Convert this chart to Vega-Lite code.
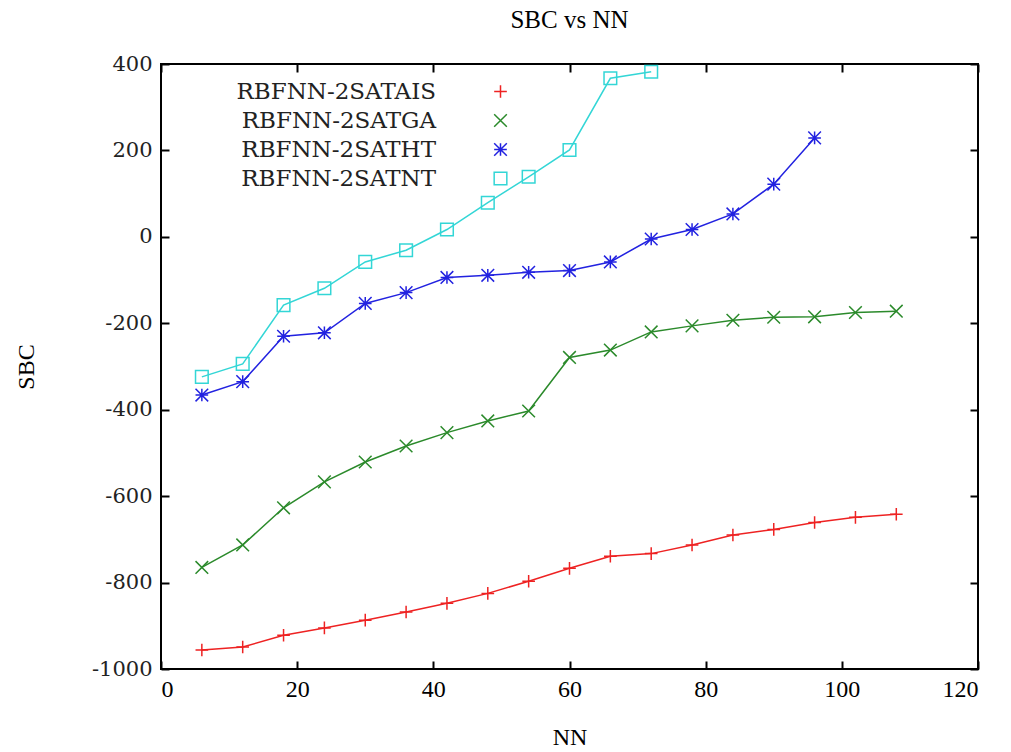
{
  "$schema": "https://vega.github.io/schema/vega-lite/v6.json",
  "width": 817,
  "height": 605,
  "padding": {"left": 14, "top": 8, "right": 5, "bottom": 5},
  "background": "white",
  "title": {"text": "SBC vs NN", "font": "Liberation Serif", "fontSize": 25, "fontWeight": "normal", "color": "black", "offset": 20},
  "config": {
    "view": {"stroke": "black", "strokeWidth": 2},
    "font": "Liberation Serif",
    "legend": {"title": null, "orient": "none", "legendX": 328, "legendY": 16, "labelFont": "DejaVu Serif", "labelFontSize": 23, "labelColor": "#222222",
      "labelAlign": "right", "labelOffset": -76, "symbolSize": 160, "symbolStrokeWidth": 1.5, "rowPadding": 5, "labelLimit": 400}
  },
  "data": {"values": [
    {"series": "RBFNN-2SATAIS", "nn": 6, "sbc": -956},
    {"series": "RBFNN-2SATAIS", "nn": 12, "sbc": -949},
    {"series": "RBFNN-2SATAIS", "nn": 18, "sbc": -922},
    {"series": "RBFNN-2SATAIS", "nn": 24, "sbc": -905},
    {"series": "RBFNN-2SATAIS", "nn": 30, "sbc": -887},
    {"series": "RBFNN-2SATAIS", "nn": 36, "sbc": -868},
    {"series": "RBFNN-2SATAIS", "nn": 42, "sbc": -848},
    {"series": "RBFNN-2SATAIS", "nn": 48, "sbc": -825},
    {"series": "RBFNN-2SATAIS", "nn": 54, "sbc": -797},
    {"series": "RBFNN-2SATAIS", "nn": 60, "sbc": -767},
    {"series": "RBFNN-2SATAIS", "nn": 66, "sbc": -739},
    {"series": "RBFNN-2SATAIS", "nn": 72, "sbc": -733},
    {"series": "RBFNN-2SATAIS", "nn": 78, "sbc": -713},
    {"series": "RBFNN-2SATAIS", "nn": 84, "sbc": -690},
    {"series": "RBFNN-2SATAIS", "nn": 90, "sbc": -677},
    {"series": "RBFNN-2SATAIS", "nn": 96, "sbc": -661},
    {"series": "RBFNN-2SATAIS", "nn": 102, "sbc": -649},
    {"series": "RBFNN-2SATAIS", "nn": 108, "sbc": -642},
    {"series": "RBFNN-2SATGA", "nn": 6, "sbc": -765},
    {"series": "RBFNN-2SATGA", "nn": 12, "sbc": -713},
    {"series": "RBFNN-2SATGA", "nn": 18, "sbc": -627},
    {"series": "RBFNN-2SATGA", "nn": 24, "sbc": -567},
    {"series": "RBFNN-2SATGA", "nn": 30, "sbc": -521},
    {"series": "RBFNN-2SATGA", "nn": 36, "sbc": -484},
    {"series": "RBFNN-2SATGA", "nn": 42, "sbc": -453},
    {"series": "RBFNN-2SATGA", "nn": 48, "sbc": -426},
    {"series": "RBFNN-2SATGA", "nn": 54, "sbc": -403},
    {"series": "RBFNN-2SATGA", "nn": 60, "sbc": -279},
    {"series": "RBFNN-2SATGA", "nn": 66, "sbc": -262},
    {"series": "RBFNN-2SATGA", "nn": 72, "sbc": -220},
    {"series": "RBFNN-2SATGA", "nn": 78, "sbc": -206},
    {"series": "RBFNN-2SATGA", "nn": 84, "sbc": -193},
    {"series": "RBFNN-2SATGA", "nn": 90, "sbc": -186},
    {"series": "RBFNN-2SATGA", "nn": 96, "sbc": -185},
    {"series": "RBFNN-2SATGA", "nn": 102, "sbc": -175},
    {"series": "RBFNN-2SATGA", "nn": 108, "sbc": -172},
    {"series": "RBFNN-2SATHT", "nn": 6, "sbc": -366},
    {"series": "RBFNN-2SATHT", "nn": 12, "sbc": -335},
    {"series": "RBFNN-2SATHT", "nn": 18, "sbc": -230},
    {"series": "RBFNN-2SATHT", "nn": 24, "sbc": -222},
    {"series": "RBFNN-2SATHT", "nn": 30, "sbc": -154},
    {"series": "RBFNN-2SATHT", "nn": 36, "sbc": -129},
    {"series": "RBFNN-2SATHT", "nn": 42, "sbc": -94},
    {"series": "RBFNN-2SATHT", "nn": 48, "sbc": -89},
    {"series": "RBFNN-2SATHT", "nn": 54, "sbc": -82},
    {"series": "RBFNN-2SATHT", "nn": 60, "sbc": -78},
    {"series": "RBFNN-2SATHT", "nn": 66, "sbc": -58},
    {"series": "RBFNN-2SATHT", "nn": 72, "sbc": -5},
    {"series": "RBFNN-2SATHT", "nn": 78, "sbc": 17},
    {"series": "RBFNN-2SATHT", "nn": 84, "sbc": 53},
    {"series": "RBFNN-2SATHT", "nn": 90, "sbc": 122},
    {"series": "RBFNN-2SATHT", "nn": 96, "sbc": 229},
    {"series": "RBFNN-2SATNT", "nn": 6, "sbc": -324},
    {"series": "RBFNN-2SATNT", "nn": 12, "sbc": -294},
    {"series": "RBFNN-2SATNT", "nn": 18, "sbc": -158},
    {"series": "RBFNN-2SATNT", "nn": 24, "sbc": -119},
    {"series": "RBFNN-2SATNT", "nn": 30, "sbc": -58},
    {"series": "RBFNN-2SATNT", "nn": 36, "sbc": -31},
    {"series": "RBFNN-2SATNT", "nn": 42, "sbc": 17},
    {"series": "RBFNN-2SATNT", "nn": 48, "sbc": 79},
    {"series": "RBFNN-2SATNT", "nn": 54, "sbc": 139},
    {"series": "RBFNN-2SATNT", "nn": 60, "sbc": 201},
    {"series": "RBFNN-2SATNT", "nn": 66, "sbc": 367},
    {"series": "RBFNN-2SATNT", "nn": 72, "sbc": 382}
  ]},
  "layer": [
    {
      "mark": {"type": "line", "strokeWidth": 1.5},
      "encoding": {
        "x": {"field": "nn", "type": "quantitative", "scale": {"domain": [0, 120], "nice": false, "zero": false},
          "axis": {"orient": "bottom", "values": [0, 20, 40, 60, 80, 100, 120], "labelExpr": "datum.value + ''", "title": "NN", "grid": false, "domain": false,
            "tickSize": -8, "tickColor": "black", "tickWidth": 2, "labelPadding": 16, "labelFont": "Liberation Serif", "labelFontSize": 24, "labelColor": "black",
            "titleFont": "Liberation Serif", "titleFontSize": 24, "titleFontWeight": "normal", "titleColor": "black", "titlePadding": 24}},
        "y": {"field": "sbc", "type": "quantitative", "scale": {"domain": [-1000, 400], "nice": false, "zero": false},
          "axis": {"orient": "left", "values": [-1000, -800, -600, -400, -200, 0, 200, 400], "labelExpr": "datum.value + ''", "title": "SBC", "grid": false, "domain": false,
            "tickSize": -8, "tickColor": "black", "tickWidth": 2, "labelPadding": 17, "labelFont": "DejaVu Serif", "labelFontSize": 21, "labelColor": "#222222",
            "titleFont": "Liberation Serif", "titleFontSize": 24, "titleFontWeight": "normal", "titleColor": "black", "titlePadding": 53}},
        "color": {"field": "series", "type": "nominal",
          "scale": {"domain": ["RBFNN-2SATAIS", "RBFNN-2SATGA", "RBFNN-2SATHT", "RBFNN-2SATNT"], "range": ["#ee2222", "#2b8a2b", "#2222e0", "#33d6d6"]},
          "legend": {}}
      }
    },
    {
      "mark": {"type": "point", "filled": false, "size": 160, "strokeWidth": 1.5, "opacity": 1},
      "encoding": {
        "x": {"field": "nn", "type": "quantitative",
          "axis": {"orient": "top", "values": [0, 20, 40, 60, 80, 100, 120], "title": null, "labels": false, "grid": false, "domain": false, "tickSize": -8, "tickColor": "black", "tickWidth": 2}},
        "y": {"field": "sbc", "type": "quantitative",
          "axis": {"orient": "right", "values": [-1000, -800, -600, -400, -200, 0, 200, 400], "title": null, "labels": false, "grid": false, "domain": false, "tickSize": -8, "tickColor": "black", "tickWidth": 2}},
        "stroke": {"field": "series", "type": "nominal",
          "scale": {"domain": ["RBFNN-2SATAIS", "RBFNN-2SATGA", "RBFNN-2SATHT", "RBFNN-2SATNT"], "range": ["#ee2222", "#2b8a2b", "#2222e0", "#33d6d6"]},
          "legend": null},
        "shape": {"field": "series", "type": "nominal",
          "scale": {"domain": ["RBFNN-2SATAIS", "RBFNN-2SATGA", "RBFNN-2SATHT", "RBFNN-2SATNT"],
            "range": ["M-1,0H1M0,-1V1", "M-1,-1L1,1M-1,1L1,-1", "M-1,0H1M0,-1V1M-1,-1L1,1M-1,1L1,-1", "M-1,-1H1V1H-1Z"]},
          "legend": null}
      }
    }
  ],
  "resolve": {"axis": {"x": "independent", "y": "independent"}}
}
